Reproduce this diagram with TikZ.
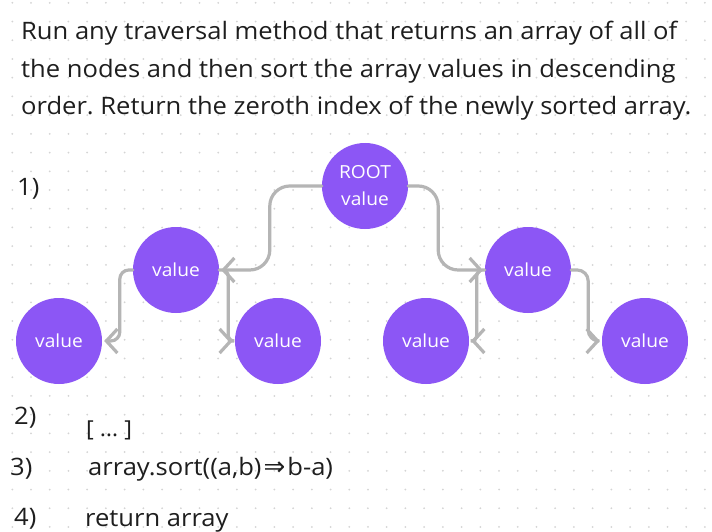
\documentclass[tikz,border=0pt]{standalone}
\usepackage{fontspec}
\setmainfont{Open Sans}[FakeStretch=1.065]
\newfontfamily\symfont{DejaVu Sans}
\usetikzlibrary{arrows.meta}
\definecolor{nodepurple}{HTML}{8C56F5}
\definecolor{linkgray}{HTML}{B5B5B5}
\definecolor{dotgray}{HTML}{D4D4D4}
\definecolor{inkblack}{HTML}{1E1E1E}
\frenchspacing

\begin{document}
\begin{tikzpicture}[x=1pt,y=-1pt,
  valnode/.style={circle,fill=nodepurple,minimum size=86pt,inner sep=0pt,text=white,
    font=\fontsize{18}{27}\selectfont,align=center},
  link/.style={draw=linkgray,line width=3.2pt,line cap=round,rounded corners=#1,shorten >=2pt,
    -{Straight Barb[length=11pt,width=24pt,line width=3.2pt]}},
  link/.default=20pt,
  txt/.style={anchor=base west,inner sep=0pt,text=inkblack,font=\fontsize{24}{30}\selectfont}]
  \useasboundingbox (0,0) rectangle (712,532);
  \fill[white] (0,0) rectangle (712,532);
  \foreach \i in {0,...,37}{\foreach \j in {0,...,28}{\fill[dotgray] (12.3+18.72*\i,2.8+18.72*\j) circle (1pt);}}
  % description
  \node[txt] (intro1) at (21,39.5) {Run any traversal method that returns an array of all of};
  \node[txt] (intro2) at (21,78) {the nodes and then sort the array values in descending};
  \node[txt] (intro3) at (21,114.5) {order. Return the zeroth index of the newly sorted array.};
  % step 1: the tree
  \node[txt] (s1) at (17,195) {1)};
  \node[valnode] (root) at (365,186) {ROOT\\value};
  \node[valnode] (l) at (176,270) {value};
  \node[valnode] (r) at (528,270) {value};
  \node[valnode] (ll) at (59,341) {value};
  \node[valnode] (lr) at (278,341) {value};
  \node[valnode] (rl) at (426,341) {value};
  \node[valnode] (rr) at (645,341) {value};
  \draw[link] (root.west) -- ++(-52,0) |- (l.east);
  \draw[link] (root.east) -- ++(30,0) |- (r.west);
  \draw[link=9pt] (l.west) -- ++(-13,0) |- (ll.east);
  \draw[link=6pt] (l.east) -- ++(9,0) |- (lr.west);
  \draw[link=6pt] (r.west) -- ++(-8,0) |- (rl.east);
  \draw[link=11pt] (r.east) -- ++(17,0) |- (rr.west);
  % steps 2-4
  \node[txt] (s2) at (14,424) {2)};
  \node[txt,font=\fontsize{22}{26}\selectfont] (s2code) at (86,436) {[ … ]};
  \node[txt] (s3) at (10,475) {3)};
  \node[txt] (s3code) at (88,475) {array.sort((a,b)\hspace{2pt}{\symfont\fontsize{26}{30}\selectfont ⇒}\hspace{2pt}b-a)};
  \node[txt] (s4) at (14,525) {4)};
  \node[txt] (s4code) at (85,526) {return array};
\end{tikzpicture}
\end{document}
